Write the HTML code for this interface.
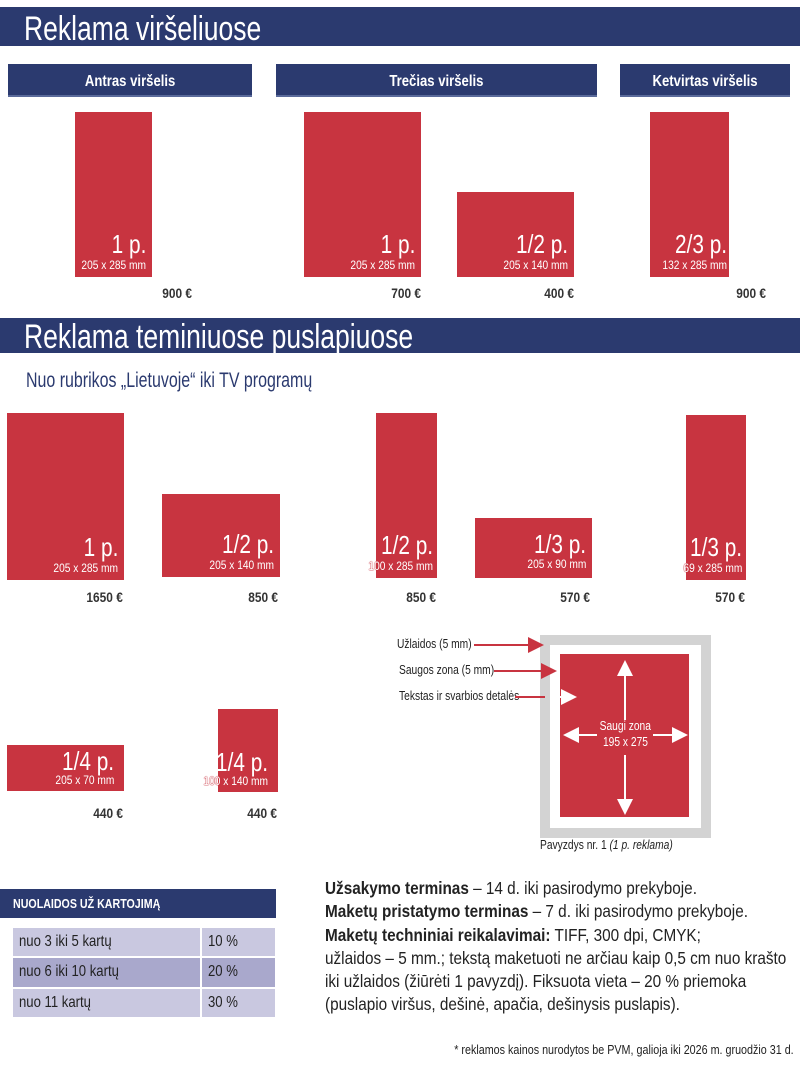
<!DOCTYPE html>
<html><head><meta charset="utf-8"><style>
*{margin:0;padding:0;box-sizing:border-box}
body{width:800px;height:1070px;background:#fff;position:relative;overflow:hidden;font-family:"Liberation Sans",sans-serif;color:#222}
.a{position:absolute;white-space:nowrap}
.c{display:inline-block;transform:scaleX(.82);transform-origin:left center;white-space:nowrap}
.cr{display:inline-block;transform:scaleX(.85);transform-origin:right center;white-space:nowrap}
.cc{display:inline-block;transform:scaleX(.82);transform-origin:center center;white-space:nowrap}
.band{position:absolute;left:0;width:800px;background:#2b3a6f;color:#fff;font-size:34px;padding-left:24px}
.hd{position:absolute;height:33px;background:#2b3a6f;color:#fff;font-weight:bold;font-size:16px;text-align:center;line-height:36px;border-bottom:2px solid #5a6a9a}
.r{position:absolute;background:#c83440}
.r .big{position:absolute;right:6px;bottom:20px;color:#fff;font-size:26px;line-height:25px;white-space:nowrap;transform:scaleX(.8);transform-origin:right}
.r .dim{position:absolute;right:6px;bottom:5px;color:#fff;font-size:12px;line-height:13px;white-space:nowrap;transform:scaleX(.85);transform-origin:right}
.o{color:#fff;text-shadow:0 0 1px #c83440,0 0 1px #c83440,0 0 1px #c83440}
.pr{position:absolute;font-weight:bold;font-size:14px;text-align:right;width:80px;color:#333}
.lbl{position:absolute;font-size:12.5px;color:#222;white-space:nowrap}
.td{position:absolute;font-size:16px;padding-left:6px;line-height:28px;color:#222}
.tx{position:absolute;left:325px;font-size:17.5px;line-height:23.3px;color:#222;white-space:nowrap;transform:scaleX(.875);transform-origin:left top}
</style></head><body>
<div class="band" style="top:7px;height:39px;line-height:44px"><span class="c" style="transform:scaleX(.78)">Reklama viršeliuose</span></div>
<div class="hd" style="left:8px;top:64px;width:244px"><span class="cc">Antras viršelis</span></div>
<div class="hd" style="left:276px;top:64px;width:321px"><span class="cc">Trečias viršelis</span></div>
<div class="hd" style="left:620px;top:64px;width:170px"><span class="cc">Ketvirtas viršelis</span></div>

<div class="r" style="left:75px;top:112px;width:77px;height:165px"><span class="big">1 p.</span><span class="dim">205 x 285 mm</span></div>
<div class="r" style="left:304px;top:112px;width:117px;height:165px"><span class="big">1 p.</span><span class="dim">205 x 285 mm</span></div>
<div class="r" style="left:457px;top:192px;width:117px;height:85px"><span class="big">1/2 p.</span><span class="dim">205 x 140 mm</span></div>
<div class="r" style="left:650px;top:112px;width:79px;height:165px"><span class="big" style="right:2px">2/3 p.</span><span class="dim" style="right:2px">132 x 285 mm</span></div>
<div class="pr" style="left:112px;top:285px"><span class="cr">900 €</span></div>
<div class="pr" style="left:341px;top:285px"><span class="cr">700 €</span></div>
<div class="pr" style="left:494px;top:285px"><span class="cr">400 €</span></div>
<div class="pr" style="left:686px;top:285px"><span class="cr">900 €</span></div>

<div class="band" style="top:318px;height:35px;line-height:38px"><span class="c" style="transform:scaleX(.78)">Reklama teminiuose puslapiuose</span></div>
<div class="a" style="left:26px;top:369px;font-size:21px;color:#2b3a6f"><span class="c" style="transform:scaleX(.76)">Nuo rubrikos „Lietuvoje“ iki TV programų</span></div>

<div class="r" style="left:7px;top:413px;width:117px;height:167px"><span class="big">1 p.</span><span class="dim">205 x 285 mm</span></div>
<div class="r" style="left:162px;top:494px;width:118px;height:83px"><span class="big">1/2 p.</span><span class="dim">205 x 140 mm</span></div>
<div class="r" style="left:376px;top:413px;width:61px;height:165px"><span class="big" style="right:4px">1/2 p.</span><span class="dim" style="right:4px"><span class="o">100</span> x 285 mm</span></div>
<div class="r" style="left:475px;top:518px;width:117px;height:60px"><span class="big" style="bottom:21px">1/3 p.</span><span class="dim" style="bottom:7px">205 x 90 mm</span></div>
<div class="r" style="left:686px;top:415px;width:60px;height:165px"><span class="big" style="right:4px">1/3 p.</span><span class="dim" style="right:4px"><span class="o">69</span> x 285 mm</span></div>
<div class="pr" style="left:43px;top:589px"><span class="cr">1650 €</span></div>
<div class="pr" style="left:198px;top:589px"><span class="cr">850 €</span></div>
<div class="pr" style="left:356px;top:589px"><span class="cr">850 €</span></div>
<div class="pr" style="left:510px;top:589px"><span class="cr">570 €</span></div>
<div class="pr" style="left:665px;top:589px"><span class="cr">570 €</span></div>

<div class="r" style="left:7px;top:745px;width:117px;height:46px"><span class="big" style="bottom:17px;right:10px">1/4 p.</span><span class="dim" style="bottom:4px;right:10px">205 x 70 mm</span></div>
<div class="r" style="left:218px;top:709px;width:60px;height:83px"><span class="big" style="bottom:17px;right:10px">1/4 p.</span><span class="dim" style="bottom:4px;right:10px"><span class="o">100</span> x 140 mm</span></div>
<div class="pr" style="left:43px;top:805px"><span class="cr">440 €</span></div>
<div class="pr" style="left:197px;top:805px"><span class="cr">440 €</span></div>

<!-- diagram -->
<div class="a" style="left:540px;top:635px;width:171px;height:203px;background:#d3d3d3"></div>
<div class="a" style="left:550px;top:645px;width:151px;height:183px;background:#fff"></div>
<div class="a" style="left:560px;top:654px;width:129px;height:163px;background:#c83440"></div>
<div class="lbl" style="left:397px;top:637px"><span class="c">Užlaidos (5 mm)</span></div>
<div class="lbl" style="left:399px;top:663px"><span class="c">Saugos zona (5 mm)</span></div>
<div class="lbl" style="left:399px;top:689px"><span class="c">Tekstas ir svarbios detalės</span></div>
<svg class="a" style="left:0;top:0" width="800" height="1070">
<defs><marker id="m" markerWidth="8" markerHeight="8" refX="7" refY="4" orient="auto"><path d="M0,0 L8,4 L0,8 z" fill="#c83440"/></marker>
<marker id="w" markerWidth="8" markerHeight="8" refX="7" refY="4" orient="auto"><path d="M0,0 L8,4 L0,8 z" fill="#fff"/></marker></defs>
<line x1="474" y1="645" x2="542" y2="645" stroke="#c83440" stroke-width="2" marker-end="url(#m)"/>
<line x1="494" y1="671" x2="555" y2="671" stroke="#c83440" stroke-width="2" marker-end="url(#m)"/>
<line x1="515" y1="697" x2="545" y2="697" stroke="#c83440" stroke-width="2"/>
<line x1="560" y1="697" x2="575" y2="697" stroke="#fff" stroke-width="2" marker-end="url(#w)"/>
<line x1="625" y1="720" x2="625" y2="662" stroke="#fff" stroke-width="2" marker-end="url(#w)"/>
<line x1="625" y1="755" x2="625" y2="813" stroke="#fff" stroke-width="2" marker-end="url(#w)"/>
<line x1="597" y1="735" x2="565" y2="735" stroke="#fff" stroke-width="2" marker-end="url(#w)"/>
<line x1="653" y1="735" x2="686" y2="735" stroke="#fff" stroke-width="2" marker-end="url(#w)"/>
</svg>
<div class="a" style="left:590px;top:718px;width:70px;text-align:center;color:#fff;font-size:12.5px;line-height:16px"><span class="cc">Saugi zona</span><br><span class="cc">195 x 275</span></div>
<div class="lbl" style="left:540px;top:838px"><span class="c">Pavyzdys nr. 1 <i>(1 p. reklama)</i></span></div>

<!-- discounts -->
<div class="a" style="left:0;top:889px;width:276px;height:29px;background:#2b3a6f;color:#fff;font-weight:bold;font-size:13px;line-height:30px;padding-left:13px"><span class="c">NUOLAIDOS UŽ KARTOJIMĄ</span></div>
<div class="td" style="left:13px;top:928px;width:187px;height:28px;background:#c9c8e0"><span class="c">nuo 3 iki 5 kartų</span></div>
<div class="td" style="left:202px;top:928px;width:73px;height:28px;background:#c9c8e0"><span class="c">10 %</span></div>
<div class="td" style="left:13px;top:958px;width:187px;height:29px;background:#a9a8cc"><span class="c">nuo 6 iki 10 kartų</span></div>
<div class="td" style="left:202px;top:958px;width:73px;height:29px;background:#a9a8cc"><span class="c">20 %</span></div>
<div class="td" style="left:13px;top:989px;width:187px;height:28px;background:#c9c8e0"><span class="c">nuo 11 kartų</span></div>
<div class="td" style="left:202px;top:989px;width:73px;height:28px;background:#c9c8e0"><span class="c">30 %</span></div>

<div class="tx" style="top:877px"><b>Užsakymo terminas</b> – 14 d. iki pasirodymo prekyboje.<br><b>Maketų pristatymo terminas</b> – 7 d. iki pasirodymo prekyboje.<br><b>Maketų techniniai reikalavimai:</b> TIFF, 300 dpi, CMYK;<br>užlaidos – 5 mm.; tekstą maketuoti ne arčiau kaip 0,5 cm nuo krašto<br>iki užlaidos (žiūrėti 1 pavyzdį). Fiksuota vieta – 20 % priemoka<br>(puslapio viršus, dešinė, apačia, dešinysis puslapis).</div>
<div class="a" style="right:6px;top:1043px;font-size:12.5px;color:#222"><span class="cr" style="transform:scaleX(.86)">* reklamos kainos nurodytos be PVM, galioja iki 2026 m. gruodžio 31 d.</span></div>
</body></html>
